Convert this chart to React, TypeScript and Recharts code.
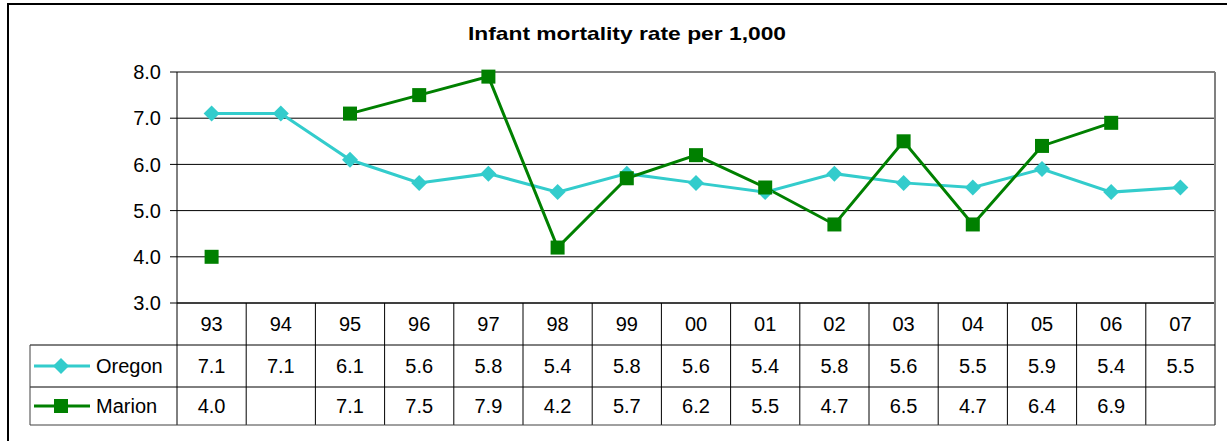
import React from 'react';
import {
  ComposedChart,
  Line,
  XAxis,
  YAxis,
  CartesianGrid,
  ReferenceLine,
} from 'recharts';

const categories = ['93', '94', '95', '96', '97', '98', '99', '00', '01', '02', '03', '04', '05', '06', '07'];
const oregonRates = [7.1, 7.1, 6.1, 5.6, 5.8, 5.4, 5.8, 5.6, 5.4, 5.8, 5.6, 5.5, 5.9, 5.4, 5.5];
const marionRates = [4.0, null, 7.1, 7.5, 7.9, 4.2, 5.7, 6.2, 5.5, 4.7, 6.5, 4.7, 6.4, 6.9, null];
const yTicks = [3, 4, 5, 6, 7, 8];

const data = categories.map((year, i) => ({
  year,
  oregon: oregonRates[i],
  marion: marionRates[i],
}));

const W = 1227;
const H = 441;
const PLOT_LEFT = 177;
const PLOT_RIGHT = 1215;
const PLOT_TOP = 72;
const PLOT_BOTTOM = 303;
const Y_AXIS_W = 60;
const COL_W = (PLOT_RIGHT - PLOT_LEFT) / categories.length;
const ROW_H = [42, 42, 38];
const LEGEND_LEFT = 30;

const OREGON = '#33CCCC';
const MARION = '#008000';
const FONT = '"Liberation Sans", Arial, sans-serif';
const FS = 20;

const series = [
  { key: 'oregon', name: 'Oregon', color: OREGON, values: oregonRates, shape: 'diamond' },
  { key: 'marion', name: 'Marion', color: MARION, values: marionRates, shape: 'square' },
];

function Marker({ cx, cy, shape, color }: any) {
  if (cx == null || cy == null) return <g />;
  if (shape === 'diamond') {
    const r = 8;
    return (
      <polygon
        points={`${cx},${cy - r} ${cx + r},${cy} ${cx},${cy + r} ${cx - r},${cy}`}
        fill={color}
      />
    );
  }
  const s = 7;
  return <rect x={cx - s} y={cy - s} width={s * 2} height={s * 2} fill={color} />;
}

function TableColumn(props: any) {
  const { x, y, payload } = props;
  const i = payload.index ?? props.index ?? 0;
  const half = COL_W / 2;
  const left = x - half;
  const right = x + half;
  const r1 = y + ROW_H[0];
  const r2 = r1 + ROW_H[1];
  const r3 = r2 + ROW_H[2];
  const last = i === categories.length - 1;
  const txt = { fontFamily: FONT, fontSize: FS, fill: '#000', textAnchor: 'middle' as const };

  return (
    <g>
      {last ? (
        <line x1={right} y1={y - (PLOT_BOTTOM - PLOT_TOP)} x2={right} y2={r3} stroke="#808080" strokeWidth={2} />
      ) : (
        <line x1={right} y1={y} x2={right} y2={r3} stroke="#000" />
      )}
      {i === 0 && <line x1={left} y1={y} x2={left} y2={r3} stroke="#000" />}
      <line x1={left} y1={r1} x2={right} y2={r1} stroke="#000" />
      <line x1={left} y1={r2} x2={right} y2={r2} stroke="#000" />
      <line x1={left} y1={r3} x2={right} y2={r3} stroke="#404040" />
      <text x={x} y={y + ROW_H[0] / 2} dy="0.36em" {...txt}>{payload.value}</text>
      {series.map((s, k) => {
        const v = s.values[i];
        const top = k === 0 ? r1 : r2;
        const h = ROW_H[k + 1];
        return v == null ? null : (
          <text key={s.key} x={x} y={top + h / 2} dy="0.36em" {...txt}>{v.toFixed(1)}</text>
        );
      })}
      {i === 0 && (
        <g>
          <line x1={LEGEND_LEFT} y1={r1} x2={left} y2={r1} stroke="#000" />
          <line x1={LEGEND_LEFT} y1={r2} x2={left} y2={r2} stroke="#000" />
          <line x1={LEGEND_LEFT} y1={r3} x2={left} y2={r3} stroke="#404040" />
          <line x1={LEGEND_LEFT} y1={r1} x2={LEGEND_LEFT} y2={r3} stroke="#404040" />
          {series.map((s, k) => {
            const cy = (k === 0 ? r1 : r2) + ROW_H[k + 1] / 2;
            return (
              <g key={s.key}>
                <line x1={LEGEND_LEFT + 4} y1={cy} x2={LEGEND_LEFT + 60} y2={cy} stroke={s.color} strokeWidth={3} />
                <Marker cx={LEGEND_LEFT + 31} cy={cy} shape={s.shape} color={s.color} />
                <text x={LEGEND_LEFT + 66} y={cy} dy="0.36em" fontFamily={FONT} fontSize={FS} fill="#000">
                  {s.name}
                </text>
              </g>
            );
          })}
        </g>
      )}
    </g>
  );
}

export default function App() {
  return (
    <div style={{ position: 'absolute', left: 0, top: 0, width: W, height: H, overflow: 'hidden', background: '#fff' }}>
      <div
        style={{
          position: 'absolute',
          left: 7,
          top: 3,
          width: 1250,
          height: 460,
          border: '2px solid #000',
        }}
      />
      <div
        style={{
          position: 'absolute',
          left: 8,
          top: 22,
          width: 1238,
          textAlign: 'center',
          fontFamily: FONT,
          fontWeight: 'bold',
          fontSize: 19,
          lineHeight: '24px',
          color: '#000',
          transform: 'scaleX(1.2)',
          transformOrigin: '619px 0',
        }}
      >
        Infant mortality rate per 1,000
      </div>
      <div style={{ position: 'absolute', left: 0, top: 0 }}>
        <ComposedChart
          width={W}
          height={H}
          data={data}
          margin={{ top: PLOT_TOP, right: W - PLOT_RIGHT, bottom: 0, left: PLOT_LEFT - Y_AXIS_W }}
        >
          <CartesianGrid horizontal vertical={false} stroke="#000" strokeWidth={1} />
          <ReferenceLine y={8} stroke="#808080" strokeWidth={2} />
          <XAxis
            dataKey="year"
            height={H - PLOT_BOTTOM}
            interval={0}
            padding={{ left: COL_W / 2, right: COL_W / 2 }}
            tickLine={false}
            tickSize={0}
            tickMargin={0}
            axisLine={{ stroke: '#000' }}
            tick={(p: any) => <TableColumn {...p} />}
          />
          <YAxis
            width={Y_AXIS_W}
            domain={[3, 8]}
            ticks={yTicks}
            tickFormatter={(v: number) => v.toFixed(1)}
            axisLine={{ stroke: '#000' }}
            tickLine={{ stroke: '#000' }}
            tickSize={7}
            tickMargin={9}
            tick={{ fontFamily: FONT, fontSize: FS, fill: '#000' }}
          />
          <Line
            dataKey="oregon"
            stroke={OREGON}
            strokeWidth={3}
            isAnimationActive={false}
            dot={(p: any) => <Marker key={`o${p.index}`} cx={p.cx} cy={p.cy} shape="diamond" color={OREGON} />}
          />
          <Line
            dataKey="marion"
            stroke={MARION}
            strokeWidth={3}
            connectNulls={false}
            isAnimationActive={false}
            dot={(p: any) => <Marker key={`m${p.index}`} cx={p.cx} cy={p.cy} shape="square" color={MARION} />}
          />
        </ComposedChart>
      </div>
    </div>
  );
}
